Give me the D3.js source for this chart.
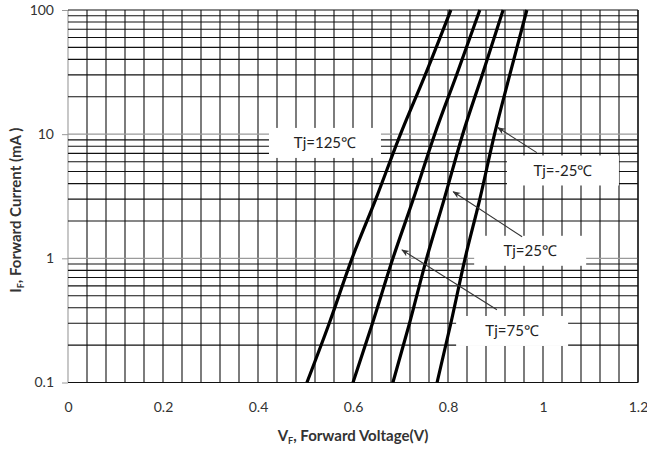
<!DOCTYPE html>
<html>
<head>
<meta charset="utf-8">
<script src="https://cdn.jsdelivr.net/npm/d3@7"></script>
<style>
	body { margin: 0; background: #fff; }
	text { font-family: Lato, "Open Sans", sans-serif; }
</style>
</head>
<body>
<div id="chart"></div>
<script>

var current = [0.1, 0.3, 1, 3, 10, 30, 100];

// forward voltage (V) for each junction temperature
var vf125 = [0.503, 0.550, 0.598, 0.648, 0.700, 0.752, 0.806];
var vf75  = [0.600, 0.641, 0.684, 0.727, 0.772, 0.818, 0.867];
var vf25  = [0.684, 0.719, 0.755, 0.792, 0.831, 0.872, 0.916];
var vfm25 = [0.777, 0.806, 0.836, 0.867, 0.898, 0.930, 0.966];

var seriesNames = ["Tj=125\u2103", "Tj=75\u2103", "Tj=25\u2103", "Tj=-25\u2103"];

var xTicks = [0, 0.2, 0.4, 0.6, 0.8, 1, 1.2];
var yTicks = [0.1, 1, 10, 100];

// annotation boxes: centre in data units (V, mA), arrow from / to in data units
var labelV    = [0.541, 0.935, 0.973, 1.042];
var labelI    = [8.5, 0.26, 1.15, 5.1];
var arrowFromV = [null, 0.903, 0.956, 0.987];
var arrowFromI = [null, 0.385, 1.49, 7.1];
var arrowToV   = [null, 0.703, 0.811, 0.905];
var arrowToI   = [null, 1.17, 3.44, 11.3];


var margin = {top: 10, right: 9, bottom: 72.5, left: 68};
var W = 647, H = 455;
var width = W - margin.left - margin.right;
var height = H - margin.top - margin.bottom;

var svg = d3.select("#chart").append("svg")
	.attr("width", W)
	.attr("height", H)
	.append("g")
	.attr("transform", "translate(" + margin.left + "," + margin.top + ")");

var x = d3.scaleLinear().domain([0, 1.2]).range([0, width]);
var y = d3.scaleLog().domain([0.1, 100]).range([height, 0]);

// vertical grid every 0.04 V
var xGrid = d3.range(0, 31).map(function(i) { return i * 0.04; });
svg.append("g")
	.selectAll("line")
	.data(xGrid)
	.enter()
	.append("line")
		.attr("x1", function(d) { return x(d); })
		.attr("x2", function(d) { return x(d); })
		.attr("y1", 0)
		.attr("y2", height)
		.style("stroke", function(d, i) { return i == 0 ? "#9a9a9a" : "#111"; })
		.style("stroke-width", 1.1);

// horizontal grid: 1..9 in every decade
var yGrid = [];
[0.1, 1, 10].forEach(function(dec) {
	for (var k = 1; k < 10; k++) { yGrid.push({v: dec * k, major: k == 1}); }
});
yGrid.push({v: 100, major: false});

svg.append("g")
	.selectAll("line")
	.data(yGrid)
	.enter()
	.append("line")
		.attr("x1", 0)
		.attr("x2", width)
		.attr("y1", function(d) { return y(d.v); })
		.attr("y2", function(d) { return y(d.v); })
		.style("stroke", function(d) { return (d.major && d.v != 0.1) ? "#9a9a9a" : "#111"; })
		.style("stroke-width", 1.1);

// right border
svg.append("line")
	.attr("x1", width).attr("x2", width)
	.attr("y1", 0).attr("y2", height)
	.style("stroke", "#111").style("stroke-width", 1.2);

// y ticks + labels
var axisLeft = d3.axisLeft(y).tickValues(yTicks).tickSize(6).tickFormat(function(d) { return d; });
var gy = svg.append("g").call(axisLeft);
gy.select(".domain").remove();
gy.selectAll(".tick line").style("stroke", "#9a9a9a");
gy.selectAll(".tick text")
	.attr("x", -14)
	.style("font-size", "14px")
	.style("fill", "#333")
	.style("font-family", "Lato, sans-serif");

// x labels
var axisBottom = d3.axisBottom(x).tickValues(xTicks).tickSize(0).tickFormat(function(d) { return d; });
var gx = svg.append("g")
	.attr("transform", "translate(0," + height + ")")
	.call(axisBottom);
gx.select(".domain").remove();
gx.selectAll(".tick text")
	.attr("y", 20)
	.style("font-size", "14px")
	.style("fill", "#333")
	.style("font-family", "Lato, sans-serif");


// annotation boxes (white, they hide the grid)
var labels = seriesNames.map(function(n, i) {
	return {text: n, v: labelV[i], c: labelI[i]};
});

var boxW = 112, boxH = 30;
svg.append("g")
	.selectAll("rect")
	.data(labels)
	.enter()
	.append("rect")
		.attr("x", function(d) { return x(d.v) - boxW / 2; })
		.attr("y", function(d) { return y(d.c) - boxH / 2; })
		.attr("width", boxW)
		.attr("height", boxH)
		.style("fill", "#fff");

svg.append("g")
	.selectAll("text")
	.data(labels)
	.enter()
	.append("text")
		.attr("x", function(d) { return x(d.v); })
		.attr("y", function(d) { return y(d.c); })
		.attr("dy", "0.36em")
		.style("text-anchor", "middle")
		.style("font-size", "15px")
		.style("fill", "#222")
		.text(function(d) { return d.text; });


// curves
var line = d3.line()
	.x(function(d) { return x(d.v); })
	.y(function(d) { return y(d.i); })
	.curve(d3.curveMonotoneX);

[vf125, vf75, vf25, vfm25].forEach(function(vf) {
	var pts = current.map(function(c, j) { return {v: vf[j], i: c}; });
	svg.append("path")
		.datum(pts)
		.attr("d", line)
		.style("fill", "none")
		.style("stroke", "#000")
		.style("stroke-width", 3.2);
});


// arrows
svg.append("defs").append("marker")
	.attr("id", "arr")
	.attr("viewBox", "0 0 10 10")
	.attr("refX", 9).attr("refY", 5)
	.attr("markerWidth", 8).attr("markerHeight", 8)
	.attr("markerUnits", "userSpaceOnUse")
	.attr("orient", "auto")
	.append("path")
		.attr("d", "M0,1 L10,5 L0,9 L3,5 Z")
		.style("fill", "#333");

for (var a = 1; a < 4; a++) {
	svg.append("line")
		.attr("x1", x(arrowFromV[a])).attr("y1", y(arrowFromI[a]))
		.attr("x2", x(arrowToV[a])).attr("y2", y(arrowToI[a]))
		.style("stroke", "#333")
		.style("stroke-width", 1.1)
		.attr("marker-end", "url(#arr)");
}


// axis titles
var xt = svg.append("text")
	.attr("x", width / 2)
	.attr("y", height + 58)
	.style("text-anchor", "middle")
	.style("font-size", "15px")
	.style("font-weight", "bold")
	.style("fill", "#333");
xt.append("tspan").text("V");
xt.append("tspan").attr("dy", 3).style("font-size", "9px").text("F");
xt.append("tspan").attr("dy", -3).text(", Forward Voltage(V)");

var yt = svg.append("text")
	.attr("transform", "translate(" + (-47) + "," + (height / 2 + 14) + ") rotate(-90)")
	.style("text-anchor", "middle")
	.style("font-size", "15px")
	.style("font-weight", "bold")
	.style("fill", "#333");
yt.append("tspan").text("I");
yt.append("tspan").attr("dy", 3).style("font-size", "9px").text("F");
yt.append("tspan").attr("dy", -3).text(", Forward Current (mA )");

</script>
</body>
</html>
